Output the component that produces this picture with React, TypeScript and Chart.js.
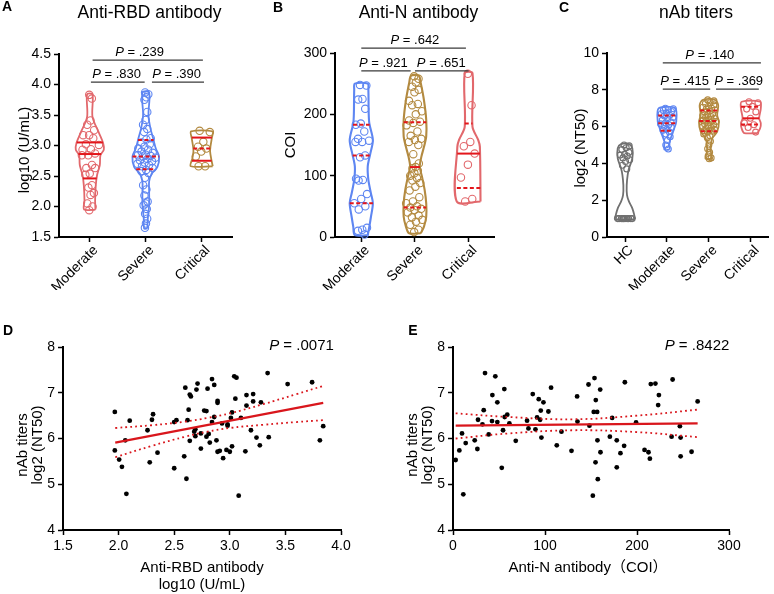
import React, { useEffect, useRef } from 'react';
import { Chart, registerables } from 'chart.js';
Chart.register(...registerables);

const FONT = 'Arial, "Liberation Sans", Helvetica, "Noto Sans CJK SC", sans-serif';
const C_RED = '#E2686C';
const C_BLUE = '#5E86F2';
const C_GOLD = '#B38A40';
const C_GRAY = '#707070';
const C_STAT = '#E3161B';
const C_FIT = '#D9161C';

// ---------- Panel A : Anti-RBD antibody, log10 (U/mL) ----------
const catsA = ['Moderate', 'Severe', 'Critical'];
const rbdModerate = [3.83, 3.77, 3.41, 3.34, 3.25, 3.17, 3.17, 3.12, 3.02, 3.01, 2.94, 2.93, 2.87, 2.84, 2.84, 2.68, 2.63, 2.63, 2.54, 2.52, 2.35, 2.31, 2.22, 2.19, 2.05, 2.0, 1.94];
const rbdSevere = [3.87, 3.84, 3.79, 3.75, 3.55, 3.42, 3.34, 3.27, 3.22, 3.12, 3.1, 3.05, 3.02, 2.98, 2.95, 2.93, 2.9, 2.88, 2.85, 2.84, 2.83, 2.82, 2.8, 2.78, 2.76, 2.74, 2.72, 2.7, 2.68, 2.66, 2.63, 2.6, 2.58, 2.55, 2.47, 2.35, 2.28, 2.18, 2.08, 2.05, 2.02, 1.96, 1.88, 1.8, 1.72, 1.65];
const rbdCritical = [3.24, 3.22, 3.06, 2.98, 2.95, 2.9, 2.82, 2.66, 2.66];
const rbdModerateShape = [[3.84, 0.048], [3.47, 0.048], [3.2, 0.167], [3.04, 0.238], [2.93, 0.25], [2.84, 0.19], [2.68, 0.179], [2.52, 0.131], [2.35, 0.107], [2.1, 0.095], [1.95, 0.101]];
const rbdSevereShape = [[3.87, 0.06], [3.5, 0.048], [3.28, 0.083], [3.12, 0.131], [2.95, 0.179], [2.82, 0.238], [2.65, 0.208], [2.54, 0.107], [2.41, 0.06], [2.24, 0.06], [2.02, 0.06], [1.8, 0.036], [1.64, 0.03]];
const rbdCriticalShape = [[3.23, 0.19], [3.12, 0.179], [2.98, 0.155], [2.9, 0.149], [2.79, 0.167], [2.66, 0.196]];
const rbdStats = [[2.46, 2.86, 3.05], [2.61, 2.82, 3.09], [2.75, 2.95, 3.13]]; // q1, median, q3
const rbdStatStyle = ['sss', 'ddd', 'sds'];
const rbdBrackets = [
  { x1: 0.05, x2: 2.02, y: 4.4, tx: 0.89, label: '.239' },
  { x1: 0.02, x2: 0.98, y: 4.04, tx: 0.48, label: '.830' },
  { x1: 1.11, x2: 2.04, y: 4.04, tx: 1.55, label: '.390' },
];

// ---------- Panel B : Anti-N antibody, COI ----------
const catsB = ['Moderate', 'Severe', 'Critical'];
const nModerate = [248, 247, 225, 224, 209, 185, 183, 172, 160, 157, 155, 155, 133, 130, 95, 93, 92, 70, 62, 55, 50, 45, 15, 12, 10, 4];
const nSevere = [262, 258, 252, 245, 240, 236, 222, 217, 215, 205, 200, 190, 188, 186, 182, 172, 165, 160, 158, 155, 150, 135, 120, 114, 112, 108, 104, 100, 96, 92, 88, 82, 76, 65, 58, 55, 50, 48, 46, 44, 40, 35, 32, 28, 25, 20, 12, 8];
const nCritical = [266, 215, 155, 148, 136, 118, 97, 62, 58];
const nModerateShape = [[250, 0.12], [240, 0.132], [202, 0.138], [185, 0.15], [158, 0.216], [136, 0.168], [115, 0.12], [93, 0.132], [71, 0.18], [55, 0.216], [33, 0.18], [17, 0.15], [3, 0.12]];
const nSevereShape = [[263, 0.072], [251, 0.108], [223, 0.168], [191, 0.21], [164, 0.21], [147, 0.168], [131, 0.12], [115, 0.09], [98, 0.132], [77, 0.18], [55, 0.21], [33, 0.21], [17, 0.168], [6, 0.108]];
const nCriticalShape = [[267, 0.072], [180, 0.072], [158, 0.18], [147, 0.21], [58, 0.222]];
const nStats = [[55, 133, 183], [48, 114, 187], [80, 136, 185]];
const nStatStyle = ['ddd', 'dsd', 'dsd'];
const nBrackets = [
  { x1: 0, x2: 1.95, y: 308, tx: 1.0, label: '.642' },
  { x1: 0, x2: 0.92, y: 270.7, tx: 0.41, label: '.921' },
  { x1: 1.0, x2: 2.0, y: 270.7, tx: 1.49, label: '.651' },
];

// ---------- Panel C : nAb titers, log2 (NT50) ----------
const catsC = ['HC', 'Moderate', 'Severe', 'Critical'];
const nabHC = [5.0, 4.95, 4.85, 4.75, 4.6, 4.5, 4.45, 4.4, 4.3, 4.2, 4.1, 3.9, 3.7, 1, 1, 1, 1, 1, 1, 1, 1, 1, 1];
const nabModerate = [7.0, 6.97, 6.93, 6.88, 6.82, 6.75, 6.7, 6.62, 6.58, 6.5, 6.42, 6.35, 6.25, 6.2, 6.15, 6.1, 6.02, 5.95, 5.85, 5.8, 5.72, 5.6, 5.45, 5.25, 5.0, 4.78];
const nabSevere = [7.45, 7.4, 7.3, 7.25, 7.18, 7.1, 7.05, 7.0, 6.95, 6.9, 6.85, 6.8, 6.7, 6.65, 6.6, 6.55, 6.5, 6.45, 6.4, 6.35, 6.32, 6.3, 6.28, 6.22, 6.15, 6.1, 6.05, 6.0, 5.95, 5.9, 5.85, 5.8, 5.78, 5.75, 5.7, 5.6, 5.5, 5.4, 5.2, 5.0, 4.8, 4.6, 4.4, 4.3, 4.25];
const nabCritical = [7.35, 7.3, 7.1, 6.95, 6.8, 6.45, 6.2, 6.1, 5.95, 5.7];
const nabHCShape = [[5.05, 0.095], [4.82, 0.174], [4.27, 0.174], [3.73, 0.095], [3.37, 0.063], [2.82, 0.04], [2.28, 0.047], [1.92, 0.095], [1.56, 0.174], [1.19, 0.221], [0.97, 0.237]];
const nabModerateShape = [[7.0, 0.197], [6.27, 0.221], [5.91, 0.174], [5.54, 0.118], [5.18, 0.063], [4.75, 0.063]];
const nabSevereShape = [[7.45, 0.142], [7.17, 0.221], [6.63, 0.197], [6.27, 0.237], [5.72, 0.197], [5.36, 0.079], [5.0, 0.047], [4.64, 0.047], [4.25, 0.079]];
const nabCriticalShape = [[7.35, 0.221], [6.99, 0.237], [6.45, 0.197], [6.18, 0.237], [5.91, 0.221], [5.65, 0.158]];
const nabStats = [null, [5.78, 6.18, 6.6], [5.75, 6.3, 6.88], [6.12, 6.45, 7.08]];
const nabStatStyle = ['', 'ddd', 'ddd', 'dsd'];
const nabBrackets = [
  { x1: 0.9, x2: 3.24, y: 9.46, tx: 2.02, label: '.140' },
  { x1: 0.9, x2: 2.03, y: 8.04, tx: 1.42, label: '.415' },
  { x1: 2.17, x2: 3.19, y: 8.04, tx: 2.71, label: '.369' },
];

// ---------- Panel D : nAb vs Anti-RBD ----------
const dRbd = [1.966, 1.966, 2.005, 2.03, 2.06, 2.07, 2.1, 2.26, 2.3, 2.31, 2.28, 2.35, 2.5, 2.52, 2.5, 2.59, 2.6, 2.61, 2.62, 2.63, 2.64, 2.65, 2.64, 2.71, 2.7, 2.68, 2.69, 2.69, 2.74, 2.74, 2.77, 2.79, 2.8, 2.79, 2.81, 2.82, 2.84, 2.84, 2.86, 2.86, 2.88, 2.89, 2.89, 2.89, 2.91, 2.94, 2.93, 2.97, 2.98, 2.98, 3.0, 3.01, 3.02, 3.02, 3.04, 3.06, 3.05, 3.08, 3.1, 3.14, 3.15, 3.15, 3.19, 3.21, 3.21, 3.24, 3.27, 3.28, 3.34, 3.35, 3.52, 3.74, 3.81, 3.84];
const dNab = [6.58, 5.74, 5.54, 5.38, 5.96, 4.79, 6.39, 6.18, 6.41, 6.53, 5.48, 5.69, 6.36, 6.4, 5.35, 5.61, 7.11, 5.12, 6.4, 6.63, 6.96, 6.92, 5.95, 7.2, 7.07, 6.15, 6.2, 6.05, 5.78, 6.11, 6.61, 6.6, 7.09, 6.04, 6.1, 5.91, 6.36, 7.3, 6.47, 7.17, 5.96, 5.71, 6.82, 6.78, 5.73, 5.57, 6.33, 5.75, 6.31, 6.28, 5.71, 6.45, 5.83, 6.57, 7.36, 7.33, 6.87, 4.75, 6.45, 5.72, 6.72, 6.95, 6.18, 6.81, 6.97, 6.02, 5.85, 6.79, 7.43, 6.03, 7.19, 7.23, 5.96, 6.27];
const dFitX = [1.97, 3.84];
const dFitY = [5.91, 6.78];
const dBandX = [1.97, 2.3, 2.6, 2.8, 3.0, 3.3, 3.6, 3.84];
const dBandUpper = [6.23, 6.29, 6.37, 6.45, 6.55, 6.75, 6.97, 7.15];
const dBandLower = [5.59, 5.84, 6.04, 6.15, 6.23, 6.3, 6.36, 6.4];

// ---------- Panel E : nAb vs Anti-N ----------
const eN = [2.9, 6.9, 9.8, 11.2, 13.8, 23.6, 26.5, 27.2, 32, 33.4, 34.8, 38.8, 42.4, 42.8, 46, 48.2, 48.2, 53, 54.4, 55.8, 56.2, 59, 61.3, 68.2, 80.5, 82, 86.7, 89.6, 91.4, 93.2, 94.7, 95.4, 96.1, 98.3, 103.7, 106.6, 112.8, 117.9, 128.8, 134.9, 135.3, 147.3, 148.3, 153, 152, 153.8, 154.9, 155.2, 156.7, 157, 157.4, 160, 160.3, 170.5, 173, 178, 178, 182, 186, 186.8, 199, 208.2, 212.5, 214, 215, 220, 223, 223.8, 237.6, 238.7, 246.6, 247.4, 247.4, 259.3, 265.9];
const eNab = [5.53, 5.74, 6.11, 4.78, 5.9, 5.96, 5.77, 6.41, 6.31, 6.62, 7.43, 6.09, 6.38, 6.95, 7.36, 6.79, 6.36, 5.36, 6.18, 7.08, 6.47, 6.52, 6.33, 5.95, 6.39, 6.22, 6.97, 6.2, 6.46, 6.86, 6.41, 6.61, 6.02, 6.79, 6.59, 7.11, 5.85, 6.15, 5.73, 6.92, 6.37, 7.18, 6.28, 6.58, 4.75, 7.32, 5.48, 6.84, 6.58, 5.96, 5.11, 7.07, 5.7, 6.04, 6.45, 5.96, 5.37, 5.68, 5.84, 7.23, 6.35, 5.75, 5.7, 5.56, 7.19, 7.2, 6.73, 6.95, 6.04, 7.29, 6.27, 6.02, 5.61, 5.71, 6.81];
const eFitX = [2.9, 265.9];
const eFitY = [6.28, 6.33];
const eBandX = [2.9, 60, 130, 200, 265.9];
const eBandUpper = [6.55, 6.47, 6.42, 6.5, 6.63];
const eBandLower = [6.0, 6.11, 6.18, 6.14, 6.03];

// ---------- helpers ----------
function hwAt(shape, v) {
  const s = [...shape].sort((a, b) => a[0] - b[0]);
  if (v <= s[0][0]) return s[0][1];
  if (v >= s[s.length - 1][0]) return s[s.length - 1][1];
  for (let i = 1; i < s.length; i++) {
    if (v <= s[i][0]) {
      const t = (v - s[i - 1][0]) / (s[i][0] - s[i - 1][0]);
      return s[i - 1][1] + t * (s[i][1] - s[i - 1][1]);
    }
  }
  return s[s.length - 1][1];
}

function violinDatasets(groups, radius, lineW) {
  const ds = [];
  groups.forEach((g, i) => {
    const s = [...g.shape].sort((a, b) => a[0] - b[0]);
    const right = s.map(([v, w]) => ({ x: i + w, y: v }));
    const left = s.slice().reverse().map(([v, w]) => ({ x: i - w, y: v }));
    ds.push({ data: [...right, ...left, right[0]], showLine: true, borderColor: g.color, borderWidth: lineW, pointRadius: 0, tension: 0.3, fill: false, order: 3, clip: false });
    const pts = g.values.map((v, k) => {
      const f = ((k * 0.618034 + 0.37) % 1) * 2 - 1;
      return { x: i + f * hwAt(g.shape, v) * 0.78, y: v };
    });
    ds.push({ data: pts, showLine: false, pointRadius: radius, borderColor: g.color, backgroundColor: 'rgba(255,255,255,0)', pointBorderWidth: 1.1, order: 2, clip: false });
    if (g.stats) {
      g.stats.forEach((v, j) => {
        const w = hwAt(g.shape, v);
        const dashed = g.style[j] === 'd';
        ds.push({ data: [{ x: i - w, y: v }, { x: i + w, y: v }], showLine: true, borderColor: C_STAT, borderWidth: 2, borderDash: dashed ? [4, 2.5] : [], pointRadius: 0, order: 1, clip: false });
      });
    }
  });
  return ds;
}

function drawP(ctx, cx, baseY, rest, size) {
  ctx.textBaseline = 'alphabetic';
  ctx.textAlign = 'left';
  ctx.font = `italic ${size}px ${FONT}`;
  const wP = ctx.measureText('P').width;
  ctx.font = `${size}px ${FONT}`;
  const s = ' = ' + rest;
  const wR = ctx.measureText(s).width;
  const x0 = cx - (wP + wR) / 2;
  ctx.font = `italic ${size}px ${FONT}`;
  ctx.fillText('P', x0, baseY);
  ctx.font = `${size}px ${FONT}`;
  ctx.fillText(s, x0 + wP, baseY);
}

function annot(spec) {
  return {
    id: 'annot',
    afterDraw(chart) {
      const ctx = chart.ctx;
      const a = chart.chartArea;
      const xs = chart.scales.x;
      const ys = chart.scales.y;
      ctx.save();
      ctx.fillStyle = '#000';
      if (spec.title) {
        ctx.font = `17.5px ${FONT}`;
        ctx.textAlign = 'center';
        ctx.textBaseline = 'middle';
        ctx.fillText(spec.title, spec.titleX, spec.titleY);
      }
      ctx.font = `bold 14px ${FONT}`;
      ctx.textAlign = 'center';
      ctx.textBaseline = 'middle';
      ctx.fillText(spec.letter, spec.letterX, spec.letterY);
      (spec.yTitles || []).forEach((t) => {
        ctx.save();
        ctx.translate(a.left + t.dx, t.cy);
        ctx.rotate(-Math.PI / 2);
        ctx.font = `15px ${FONT}`;
        ctx.textAlign = 'center';
        ctx.textBaseline = 'middle';
        ctx.fillText(t.text, 0, 0);
        ctx.restore();
      });
      (spec.xTitles || []).forEach((t) => {
        ctx.font = `15px ${FONT}`;
        ctx.textAlign = 'center';
        ctx.textBaseline = 'middle';
        ctx.fillText(t.text, t.cx, t.cy);
      });
      (spec.cats || []).forEach((c, i) => {
        const px = xs.getPixelForValue(i);
        ctx.save();
        ctx.translate(px + 6, a.bottom + 11);
        ctx.rotate(-Math.PI / 4);
        ctx.font = `14px ${FONT}`;
        ctx.textAlign = 'right';
        ctx.textBaseline = 'middle';
        ctx.fillText(c, 0, 0);
        ctx.restore();
      });
      (spec.brackets || []).forEach((b) => {
        const y = ys.getPixelForValue(b.y);
        ctx.strokeStyle = '#3a3a3a';
        ctx.lineWidth = 1.3;
        ctx.beginPath();
        ctx.moveTo(xs.getPixelForValue(b.x1), y);
        ctx.lineTo(xs.getPixelForValue(b.x2), y);
        ctx.stroke();
        ctx.fillStyle = '#000';
        drawP(ctx, xs.getPixelForValue(b.tx), y - 4, b.label, 13);
      });
      if (spec.pText) {
        drawP(ctx, spec.pX, spec.pY, spec.pText, 15);
      }
      ctx.restore();
    },
  };
}

const axisGrid = { display: true, drawOnChartArea: false, drawTicks: true, tickLength: 5, tickWidth: 1.5, tickColor: '#000' };
const axisBorder = { display: true, color: '#000', width: 2 };

function violinChart(canvas, P) {
  return new Chart(canvas, {
    type: 'scatter',
    data: { datasets: violinDatasets(P.groups, P.radius, P.lineW) },
    options: {
      animation: false,
      responsive: false,
      devicePixelRatio: 1,
      events: [],
      layout: { padding: { left: 0, top: P.padTop, right: P.padRight, bottom: 0 } },
      plugins: { legend: { display: false }, tooltip: { enabled: false }, title: { display: false } },
      scales: {
        x: {
          type: 'linear', min: P.xMin, max: P.xMax,
          afterBuildTicks: (s) => { s.ticks = P.spec.cats.map((_, i) => ({ value: i })); },
          afterFit: (s) => { s.height = P.xAxisH; },
          ticks: { display: false },
          grid: axisGrid, border: axisBorder,
        },
        y: {
          type: 'linear', min: P.yMin, max: P.yMax,
          afterFit: (s) => { s.width = P.yAxisW; },
          ticks: { stepSize: P.yStep, callback: P.yFmt, color: '#000', font: { size: 14, family: FONT }, padding: 3 },
          grid: axisGrid, border: axisBorder,
        },
      },
    },
    plugins: [annot(P.spec)],
  });
}

function scatterChart(canvas, P) {
  const pts = P.xs.map((x, i) => ({ x, y: P.ys[i] }));
  const fit = P.fitX.map((x, i) => ({ x, y: P.fitY[i] }));
  const up = P.bandX.map((x, i) => ({ x, y: P.bandU[i] }));
  const lo = P.bandX.map((x, i) => ({ x, y: P.bandL[i] }));
  return new Chart(canvas, {
    type: 'scatter',
    data: {
      datasets: [
        { data: fit, showLine: true, borderColor: C_FIT, borderWidth: 2.2, pointRadius: 0, order: 1 },
        { data: up, showLine: true, borderColor: C_FIT, borderWidth: 1.8, borderDash: [1.8, 3.2], pointRadius: 0, tension: 0.4, order: 1 },
        { data: lo, showLine: true, borderColor: C_FIT, borderWidth: 1.8, borderDash: [1.8, 3.2], pointRadius: 0, tension: 0.4, order: 1 },
        { data: pts, showLine: false, pointRadius: 2.4, backgroundColor: '#000', borderColor: '#000', pointBorderWidth: 0, order: 2 },
      ],
    },
    options: {
      animation: false,
      responsive: false,
      devicePixelRatio: 1,
      events: [],
      layout: { padding: { left: 0, top: P.padTop, right: P.padRight, bottom: 0 } },
      plugins: { legend: { display: false }, tooltip: { enabled: false }, title: { display: false } },
      scales: {
        x: {
          type: 'linear', min: P.xMin, max: P.xMax,
          afterFit: (s) => { s.height = P.xAxisH; },
          ticks: { stepSize: P.xStep, callback: P.xFmt, color: '#000', font: { size: 14, family: FONT }, padding: 3, maxRotation: 0 },
          grid: axisGrid, border: axisBorder,
        },
        y: {
          type: 'linear', min: 4, max: 8,
          afterFit: (s) => { s.width = P.yAxisW; },
          ticks: { stepSize: 1, color: '#000', font: { size: 14, family: FONT }, padding: 3 },
          grid: axisGrid, border: axisBorder,
        },
      },
    },
    plugins: [annot(P.spec)],
  });
}

const panelA = (c) => violinChart(c, {
  groups: [
    { values: rbdModerate, shape: rbdModerateShape, stats: rbdStats[0], style: rbdStatStyle[0], color: C_RED },
    { values: rbdSevere, shape: rbdSevereShape, stats: rbdStats[1], style: rbdStatStyle[1], color: C_BLUE },
    { values: rbdCritical, shape: rbdCriticalShape, stats: rbdStats[2], style: rbdStatStyle[2], color: C_GOLD },
  ],
  radius: 3.7, lineW: 1.8,
  xMin: -0.55, xMax: 2.54, yMin: 1.5, yMax: 4.5, yStep: 0.5, yFmt: (v) => Number(v).toFixed(1),
  yAxisW: 59, xAxisH: 53, padTop: 54, padRight: 18,
  spec: {
    title: 'Anti-RBD antibody', titleX: 149.5, titleY: 13, letter: 'A', letterX: 7, letterY: 7,
    yTitles: [{ text: 'log10 (U/mL)', dx: -34, cy: 150 }], cats: catsA, brackets: rbdBrackets,
  },
});

const panelB = (c) => violinChart(c, {
  groups: [
    { values: nModerate, shape: nModerateShape, stats: nStats[0], style: nStatStyle[0], color: C_BLUE },
    { values: nSevere, shape: nSevereShape, stats: nStats[1], style: nStatStyle[1], color: C_GOLD },
    { values: nCritical, shape: nCriticalShape, stats: nStats[2], style: nStatStyle[2], color: C_RED },
  ],
  radius: 3.7, lineW: 2.1,
  xMin: -0.49, xMax: 2.49, yMin: 0, yMax: 300, yStep: 100, yFmt: (v) => String(Math.round(v)),
  yAxisW: 85, xAxisH: 53, padTop: 53, padRight: 0,
  spec: {
    title: 'Anti-N antibody', titleX: 168.5, titleY: 13, letter: 'B', letterX: 28, letterY: 8,
    yTitles: [{ text: 'COI', dx: -44, cy: 145 }], cats: catsB, brackets: nBrackets,
  },
});

const panelC = (c) => violinChart(c, {
  groups: [
    { values: nabHC, shape: nabHCShape, stats: nabStats[0], style: nabStatStyle[0], color: C_GRAY },
    { values: nabModerate, shape: nabModerateShape, stats: nabStats[1], style: nabStatStyle[1], color: C_BLUE },
    { values: nabSevere, shape: nabSevereShape, stats: nabStats[2], style: nabStatStyle[2], color: C_GOLD },
    { values: nabCritical, shape: nabCriticalShape, stats: nabStats[3], style: nabStatStyle[3], color: C_RED },
  ],
  radius: 3.0, lineW: 1.8,
  xMin: -0.43, xMax: 3.43, yMin: 0, yMax: 10, yStep: 2, yFmt: (v) => String(Math.round(v)),
  yAxisW: 107, xAxisH: 53, padTop: 53, padRight: 4,
  spec: {
    title: 'nAb titers', titleX: 196, titleY: 13, letter: 'C', letterX: 64, letterY: 8,
    yTitles: [{ text: 'log2 (NT50)', dx: -26, cy: 148 }], cats: catsC, brackets: nabBrackets,
  },
});

const panelD = (c) => scatterChart(c, {
  xs: dRbd, ys: dNab, fitX: dFitX, fitY: dFitY, bandX: dBandX, bandU: dBandUpper, bandL: dBandLower,
  xMin: 1.5, xMax: 4.0, xStep: 0.5, xFmt: (v) => Number(v).toFixed(1),
  yAxisW: 63, xAxisH: 64, padTop: 57, padRight: 49,
  spec: {
    letter: 'D', letterX: 8, letterY: 41,
    yTitles: [{ text: 'nAb titers', dx: -40, cy: 155 }, { text: 'log2 (NT50)', dx: -25, cy: 155 }],
    xTitles: [{ text: 'Anti-RBD antibody', cx: 202, cy: 278 }, { text: 'log10 (U/mL)', cx: 202, cy: 295 }],
    pText: '.0071', pX: 301.5, pY: 60,
  },
});

const panelE = (c) => scatterChart(c, {
  xs: eN, ys: eNab, fitX: eFitX, fitY: eFitY, bandX: eBandX, bandU: eBandUpper, bandL: eBandLower,
  xMin: 0, xMax: 300, xStep: 100, xFmt: (v) => String(Math.round(v)),
  yAxisW: 63, xAxisH: 64, padTop: 57, padRight: 45,
  spec: {
    letter: 'E', letterX: 23, letterY: 41,
    yTitles: [{ text: 'nAb titers', dx: -40, cy: 155 }, { text: 'log2 (NT50)', dx: -25, cy: 155 }],
    xTitles: [{ text: 'Anti-N antibody（COI）', cx: 198, cy: 278 }],
    pText: '.8422', pX: 307, pY: 60,
  },
});

function Panel({ left, top, width, height, build }) {
  const ref = useRef(null);
  useEffect(() => {
    const chart = build(ref.current);
    return () => chart.destroy();
  }, []);
  return (
    <canvas ref={ref} width={width} height={height}
      style={{ position: 'absolute', left, top, width, height, display: 'block' }} />
  );
}

export default function App() {
  return (
    <div style={{ position: 'fixed', left: 0, top: 0, width: 774, height: 594, background: '#fff', overflow: 'hidden' }}>
      <Panel left={0} top={0} width={250} height={290} build={panelA} />
      <Panel left={250} top={0} width={250} height={290} build={panelB} />
      <Panel left={500} top={0} width={274} height={290} build={panelC} />
      <Panel left={0} top={290} width={390} height={304} build={panelD} />
      <Panel left={390} top={290} width={384} height={304} build={panelE} />
    </div>
  );
}
